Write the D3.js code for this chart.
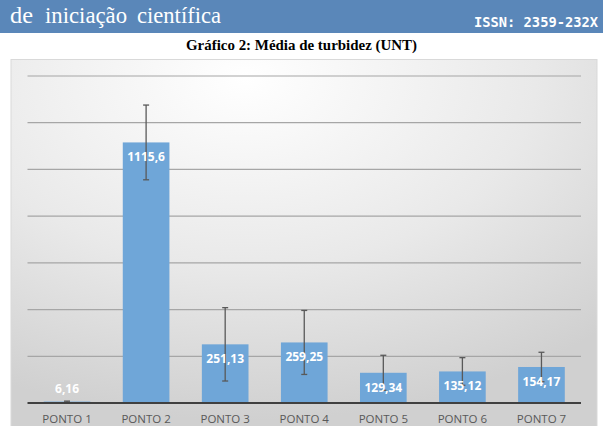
<!DOCTYPE html>
<html>
<head>
<meta charset="utf-8">
<script src="https://cdn.jsdelivr.net/npm/d3@7"></script>
<style>
  body { margin: 0; background: #fff; }
  svg { display: block; }
</style>
</head>
<body>
<div id="chart"></div>
<script>
// data
var pontos = ["PONTO 1", "PONTO 2", "PONTO 3", "PONTO 4", "PONTO 5", "PONTO 6", "PONTO 7"];
var medias = [6.16, 1115.6, 251.13, 259.25, 129.34, 135.12, 154.17];
var desvios = [2, 160, 157, 137, 75, 59, 63];
var rotulos = ["6,16", "1115,6", "251,13", "259,25", "129,34", "135,12", "154,17"];
var yTicks = [0, 200, 400, 600, 800, 1000, 1200, 1400];

var width = 603, height = 426;

var svg = d3.select("#chart")
.append("svg")
.attr("width", width)
.attr("height", height);

var defs = svg.append("defs");
var grad = defs.append("radialGradient")
.attr("id", "fundo")
.attr("cx", "40%").attr("cy", "5%").attr("r", "90%");
grad.append("stop").attr("offset", "0%").attr("stop-color", "#ffffff");
grad.append("stop").attr("offset", "55%").attr("stop-color", "#e9e9e9");
grad.append("stop").attr("offset", "100%").attr("stop-color", "#d0d0d0");

// banner
svg.append("rect")
.attr("x", 0).attr("y", 0)
.attr("width", width).attr("height", 33)
.attr("fill", "#5a87b9");

var banner = [["de", 10, 23], ["iniciação", 45, 82], ["científica", 137, 84]];
svg.selectAll(".banner")
.data(banner)
.enter()
.append("text")
.attr("x", d => d[1])
.attr("y", 23)
.attr("fill", "#fff")
.attr("textLength", d => d[2])
.attr("lengthAdjust", "spacingAndGlyphs")
.style("font-family", "'Liberation Serif', serif")
.style("font-size", "24px")
.text(d => d[0]);

svg.append("text")
.attr("x", 598).attr("y", 27)
.attr("text-anchor", "end")
.attr("fill", "#fff")
.attr("textLength", 124)
.attr("lengthAdjust", "spacingAndGlyphs")
.style("font-family", "'DejaVu Sans Mono', monospace")
.style("font-weight", "bold")
.style("font-size", "14px")
.text("ISSN: 2359-232X");

svg.append("text")
.attr("x", 186).attr("y", 50)
.attr("fill", "#000")
.attr("textLength", 231)
.attr("lengthAdjust", "spacingAndGlyphs")
.style("font-family", "'Liberation Serif', serif")
.style("font-weight", "bold")
.style("font-size", "14px")
.text("Gráfico 2: Média de turbidez (UNT)");

// chart panel
svg.append("rect")
.attr("x", 11).attr("y", 59.5)
.attr("width", 586).attr("height", 380)
.attr("fill", "url(#fundo)")
.attr("stroke", "#d9d9d9");

var x = d3.scaleBand()
.domain(pontos)
.range([27.5, 581])
.paddingInner(0.41)
.paddingOuter(0.205);

var y = d3.scaleLinear()
.domain([0, 1400])
.range([403, 76]);

// gridlines
svg.append("g")
.selectAll("line")
.data(yTicks.slice(1))
.enter()
.append("line")
.attr("x1", 27.5).attr("x2", 581)
.attr("y1", d => y(d)).attr("y2", d => y(d))
.attr("stroke", "#a6a6a6")
.attr("stroke-width", 1.2);

// bars
svg.append("g")
.selectAll("rect")
.data(medias)
.enter()
.append("rect")
.attr("x", (d, i) => x(pontos[i]))
.attr("y", d => y(d))
.attr("width", x.bandwidth())
.attr("height", d => y(0) - y(d))
.attr("fill", "#6fa6d8");

// error bars
var eb = svg.append("g")
.selectAll("g")
.data(medias)
.enter()
.append("g")
.attr("stroke", "#595959")
.attr("stroke-width", 1.3);

eb.append("line")
.attr("x1", (d, i) => x(pontos[i]) + x.bandwidth() / 2)
.attr("x2", (d, i) => x(pontos[i]) + x.bandwidth() / 2)
.attr("y1", (d, i) => y(d + desvios[i]))
.attr("y2", (d, i) => y(Math.max(0, d - desvios[i])));

[1, -1].forEach(function (s) {
    eb.append("line")
    .attr("x1", (d, i) => x(pontos[i]) + x.bandwidth() / 2 - 3)
    .attr("x2", (d, i) => x(pontos[i]) + x.bandwidth() / 2 + 3)
    .attr("y1", (d, i) => y(Math.max(0, d + s * desvios[i])))
    .attr("y2", (d, i) => y(Math.max(0, d + s * desvios[i])));
});

// baseline
svg.append("line")
.attr("x1", 27.5).attr("x2", 581)
.attr("y1", y(0)).attr("y2", y(0))
.attr("stroke", "#404040")
.attr("stroke-width", 2);

// data labels
svg.append("g")
.selectAll("text")
.data(medias)
.enter()
.append("text")
.attr("x", (d, i) => x(pontos[i]) + x.bandwidth() / 2)
.attr("y", d => (y(0) - y(d) < 20) ? y(d) - 9 : y(d) + 19)
.attr("text-anchor", "middle")
.attr("fill", "#fff")
.style("font-family", "'Open Sans', sans-serif")
.style("font-weight", "bold")
.style("font-size", "12px")
.text((d, i) => rotulos[i]);

// x axis labels
svg.append("g")
.attr("transform", "translate(0," + y(0) + ")")
.call(d3.axisBottom(x).tickSize(0).tickPadding(12))
.call(g => g.select(".domain").remove())
.selectAll("text")
.attr("fill", "#595959")
.style("font-family", "'Open Sans', sans-serif")
.style("font-size", "11.5px");
</script>
</body>
</html>
